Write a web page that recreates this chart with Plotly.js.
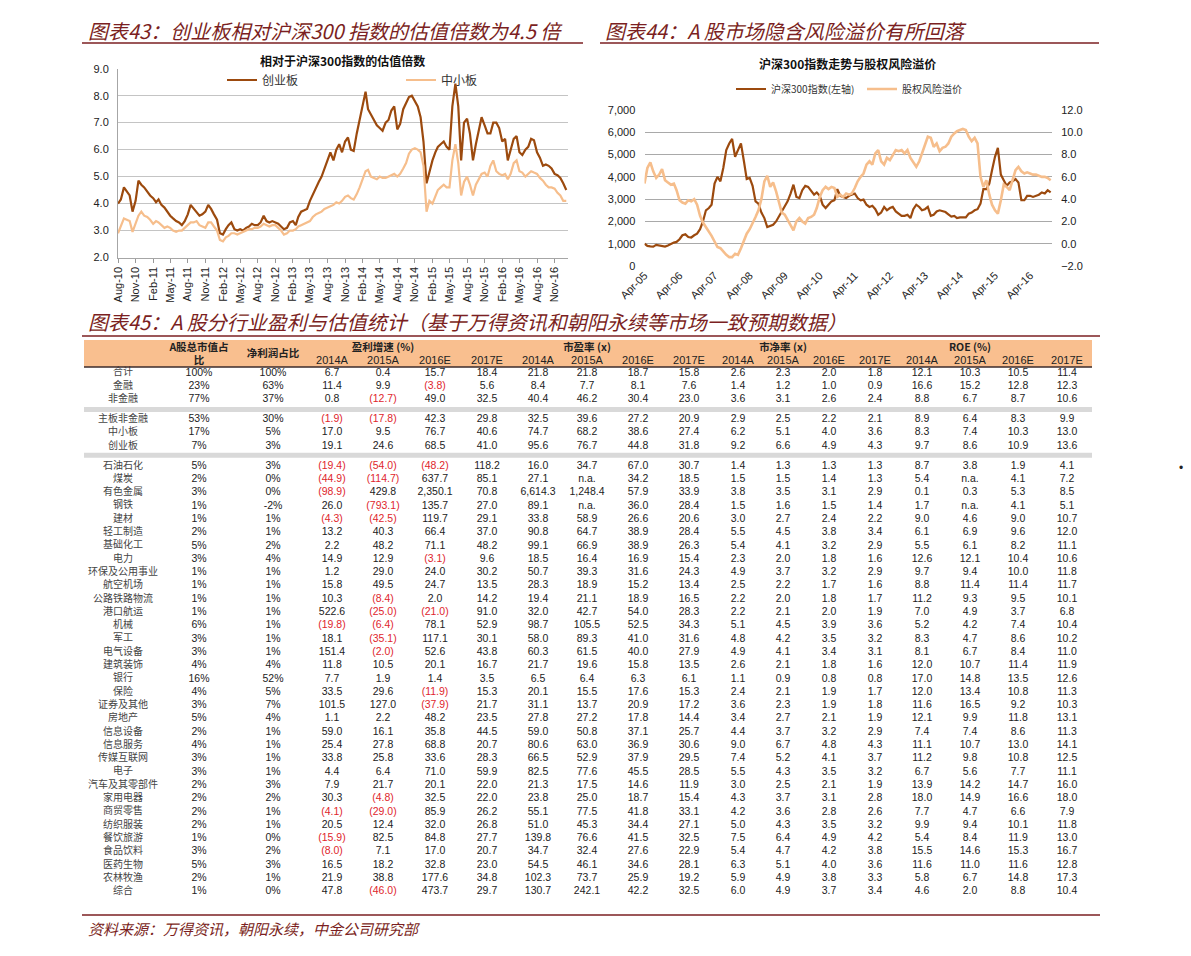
<!DOCTYPE html>
<html><head><meta charset="utf-8">
<script src="https://cdn.plot.ly/plotly-3.0.1.min.js"></script>
<style>html,body{margin:0;padding:0;background:#fff;}#chart{width:1191px;height:956px;}</style>
</head><body><div id="chart"></div>
<script>
// ===================== DATA =====================
// Chart 43: relative valuation multiples vs CSI300 (semi-monthly readings)
const relDates = [
"2010-08-01","2010-08-16","2010-09-01","2010-09-16","2010-10-01","2010-10-16","2010-11-01","2010-11-16","2010-12-01","2010-12-16",
"2011-01-01","2011-01-16","2011-02-01","2011-02-16","2011-03-01","2011-03-16","2011-04-01","2011-04-16","2011-05-01","2011-05-16","2011-06-01","2011-06-16",
"2011-07-01","2011-07-16","2011-08-01","2011-08-16","2011-09-01","2011-09-16","2011-10-01","2011-10-16","2011-11-01","2011-11-16","2011-12-01","2011-12-16",
"2012-01-01","2012-01-16","2012-02-01","2012-02-16","2012-03-01","2012-03-16","2012-04-01","2012-04-16","2012-05-01","2012-05-16","2012-06-01","2012-06-16",
"2012-07-01","2012-07-16","2012-08-01","2012-08-16","2012-09-01","2012-09-16","2012-10-01","2012-10-16","2012-11-01","2012-11-16","2012-12-01","2012-12-16",
"2013-01-01","2013-01-16","2013-02-01","2013-02-16","2013-03-01","2013-03-16","2013-04-01","2013-04-16","2013-05-01","2013-05-16","2013-06-01","2013-06-16",
"2013-07-01","2013-07-16","2013-08-01","2013-08-16","2013-09-01","2013-09-16","2013-10-01","2013-10-16","2013-11-01","2013-11-16","2013-12-01","2013-12-16",
"2014-01-01","2014-01-16","2014-02-01","2014-02-16","2014-03-01","2014-03-16","2014-04-01","2014-04-16","2014-05-01","2014-05-16","2014-06-01","2014-06-16",
"2014-07-01","2014-07-16","2014-08-01","2014-08-16","2014-09-01","2014-09-16","2014-10-01","2014-10-16","2014-11-01","2014-11-16","2014-12-01","2014-12-16",
"2015-01-01","2015-01-16","2015-02-01","2015-02-16","2015-03-01","2015-03-16","2015-04-01","2015-04-16","2015-05-01","2015-05-16","2015-06-01","2015-06-16",
"2015-07-01","2015-07-16","2015-08-01","2015-08-16","2015-09-01","2015-09-16","2015-10-01","2015-10-16","2015-11-01","2015-11-16","2015-12-01","2015-12-16",
"2016-01-01","2016-01-16","2016-02-01","2016-02-16","2016-03-01","2016-03-16","2016-04-01","2016-04-16","2016-05-01","2016-05-16","2016-06-01","2016-06-16",
"2016-07-01","2016-07-16","2016-08-01","2016-08-16","2016-09-01","2016-09-16","2016-10-01","2016-10-16","2016-11-01","2016-11-16","2016-12-01","2016-12-16",
"2017-01-01"];
const gemRel = [
4.0,4.15,4.6,4.45,4.3,3.7,4.1,4.85,4.7,4.6,
4.45,4.3,4.2,4.05,4.15,3.95,3.85,3.7,3.55,3.45,3.35,3.3,3.2,3.35,3.6,3.95,3.8,3.7,3.55,3.6,3.7,3.95,3.8,3.6,
3.4,2.9,2.85,3.05,3.2,3.3,3.05,3.0,3.05,3.0,3.1,3.15,3.25,3.2,3.2,3.3,3.55,3.35,3.3,3.35,3.3,3.25,3.15,3.05,
3.1,3.3,3.35,3.2,3.5,3.7,3.75,3.8,4.1,4.35,4.6,4.8,5.0,5.3,5.6,5.9,5.6,6.0,6.2,5.9,6.3,6.45,6.0,5.95,
6.6,7.1,7.6,8.15,7.5,7.3,7.1,6.9,6.8,6.7,7.0,7.1,7.45,7.6,6.75,6.95,7.5,7.7,7.95,8.0,7.8,7.6,7.2,6.3,
4.75,5.2,5.6,5.9,6.1,6.2,6.3,6.1,6.0,7.6,8.45,7.6,5.6,7.0,7.15,6.6,5.6,6.2,6.7,7.2,6.9,6.6,6.6,7.0,
7.0,6.8,6.3,6.4,5.6,6.0,6.4,6.5,5.9,5.8,6.0,6.1,6.4,6.35,5.9,5.7,5.4,5.45,5.4,5.3,5.1,5.05,4.95,4.75,
4.5];
const smeRel = [
2.9,3.2,3.45,3.4,3.35,2.95,3.3,3.55,3.7,3.55,
3.5,3.4,3.25,3.35,3.3,3.2,3.1,3.15,3.1,3.0,2.95,3.0,3.0,3.1,3.2,3.3,3.3,3.35,3.2,3.15,3.1,3.3,3.3,3.15,
3.0,2.65,2.6,2.75,2.8,2.9,2.9,2.85,2.9,2.95,3.0,3.05,3.05,3.1,3.1,3.15,3.25,3.2,3.15,3.2,3.2,3.1,3.0,2.85,
2.9,3.0,3.0,3.05,3.15,3.2,3.25,3.3,3.35,3.5,3.6,3.65,3.7,3.8,3.85,3.9,3.95,4.05,4.0,4.1,4.25,4.3,4.2,4.15,
4.35,4.6,4.9,5.2,5.25,5.0,4.95,4.9,5.0,4.95,4.95,5.0,5.05,5.1,5.0,5.1,5.3,5.5,5.85,6.0,6.05,6.0,5.9,5.4,
3.7,4.1,4.0,4.3,4.5,4.6,4.7,4.6,4.6,5.6,6.2,5.5,4.3,4.8,5.0,4.7,4.3,4.7,4.9,5.1,5.15,5.0,5.4,5.6,
5.2,5.1,5.05,5.1,4.9,5.1,5.5,5.6,5.2,5.15,5.0,5.1,5.2,5.15,5.1,4.95,4.85,4.7,4.6,4.6,4.55,4.4,4.3,4.1,
4.1];

// Chart 44: CSI300 index and equity risk premium (monthly readings)
const erpDates = [
"2005-04-01","2005-05-01","2005-06-01","2005-07-01","2005-08-01","2005-09-01","2005-10-01","2005-11-01","2005-12-01",
"2006-01-01","2006-02-01","2006-03-01","2006-04-01","2006-05-01","2006-06-01","2006-07-01","2006-08-01","2006-09-01","2006-10-01","2006-11-01","2006-12-01",
"2007-01-01","2007-02-01","2007-03-01","2007-04-01","2007-05-01","2007-06-01","2007-07-01","2007-08-01","2007-09-01","2007-10-01","2007-11-01","2007-12-01",
"2008-01-01","2008-02-01","2008-03-01","2008-04-01","2008-05-01","2008-06-01","2008-07-01","2008-08-01","2008-09-01","2008-10-01","2008-11-01","2008-12-01",
"2009-01-01","2009-02-01","2009-03-01","2009-04-01","2009-05-01","2009-06-01","2009-07-01","2009-08-01","2009-09-01","2009-10-01","2009-11-01","2009-12-01",
"2010-01-01","2010-02-01","2010-03-01","2010-04-01","2010-05-01","2010-06-01","2010-07-01","2010-08-01","2010-09-01","2010-10-01","2010-11-01","2010-12-01",
"2011-01-01","2011-02-01","2011-03-01","2011-04-01","2011-05-01","2011-06-01","2011-07-01","2011-08-01","2011-09-01","2011-10-01","2011-11-01","2011-12-01",
"2012-01-01","2012-02-01","2012-03-01","2012-04-01","2012-05-01","2012-06-01","2012-07-01","2012-08-01","2012-09-01","2012-10-01","2012-11-01","2012-12-01",
"2013-01-01","2013-02-01","2013-03-01","2013-04-01","2013-05-01","2013-06-01","2013-07-01","2013-08-01","2013-09-01","2013-10-01","2013-11-01","2013-12-01",
"2014-01-01","2014-02-01","2014-03-01","2014-04-01","2014-05-01","2014-06-01","2014-07-01","2014-08-01","2014-09-01","2014-10-01","2014-11-01","2014-12-01",
"2015-01-01","2015-02-01","2015-03-01","2015-04-01","2015-05-01","2015-06-01","2015-07-01","2015-08-01","2015-09-01","2015-10-01","2015-11-01","2015-12-01",
"2016-01-01","2016-02-01","2016-03-01","2016-04-01","2016-05-01","2016-06-01","2016-07-01","2016-08-01","2016-09-01","2016-10-01","2016-11-01"];
const hs300Index = [
1000,900,880,870,950,930,880,870,920,
1000,1050,1080,1200,1380,1420,1300,1280,1380,1450,1650,2000,
2500,2600,2750,3700,4000,3800,4400,5200,5500,5700,4900,5200,
5500,4700,3900,3950,3600,2900,2800,2400,2150,1750,1800,1850,
2000,2250,2450,2700,2900,3250,3650,3100,3050,3400,3600,3550,
3350,3200,3300,3150,2750,2600,2750,2900,2950,3450,3150,3100,
3050,3150,3200,3250,3050,2950,2980,2750,2650,2700,2550,2300,
2400,2650,2500,2600,2650,2450,2350,2250,2250,2300,2150,2550,
2750,2650,2500,2550,2650,2250,2300,2450,2500,2450,2420,2320,
2220,2250,2150,2180,2170,2180,2350,2400,2500,2550,2800,3450,
3450,3700,4300,4900,5300,4100,3850,3600,3750,3800,3900,3750,
2950,2950,3150,3150,3100,3150,3200,3300,3250,3400,3300];
const equityRiskPremium = [
5.4,6.8,7.3,6.5,5.9,6.2,6.7,5.7,5.5,
5.3,5.4,4.8,3.9,3.7,3.6,3.9,3.8,4.0,3.5,2.5,1.9,
1.5,1.1,0.7,0.2,-0.3,-0.4,-0.7,-1.0,-1.2,-1.2,-0.9,-1.0,
-0.4,0.3,0.9,1.3,1.8,2.4,3.0,4.0,5.6,6.1,5.1,5.5,
4.7,3.6,2.8,2.6,2.1,1.7,1.2,2.0,2.3,2.0,1.8,2.3,
2.4,2.6,3.2,4.2,4.8,5.1,4.9,5.1,5.0,4.2,4.4,4.2,
4.5,4.4,4.5,5.0,5.6,6.0,6.3,7.1,7.4,7.1,8.1,8.4,
7.4,7.1,7.7,7.5,8.0,8.4,8.3,8.4,8.1,8.4,7.7,7.3,
6.9,7.4,8.1,8.7,9.6,9.5,8.7,9.0,8.3,8.6,8.7,9.0,
9.6,9.9,10.1,10.2,10.3,10.2,9.6,9.2,9.5,9.0,6.0,5.1,
5.7,4.4,3.5,3.0,2.7,3.9,5.3,5.1,4.8,5.7,6.6,6.9,
6.5,6.3,6.4,6.3,6.2,6.2,6.1,6.0,6.0,5.9,5.7];

// Chart 45: table
const rowNames = ["合计","金融","非金融","主板非金融","中小板","创业板",
"石油石化","煤炭","有色金属","钢铁","建材","轻工制造","基础化工","电力","环保及公用事业","航空机场","公路铁路物流","港口航运","机械","军工","电气设备","建筑装饰","银行","保险","证券及其他","房地产","信息设备","信息服务","传媒互联网","电子","汽车及其零部件","家用电器","商贸零售","纺织服装","餐饮旅游","食品饮料","医药生物","农林牧渔","综合"];
const mktCapShare = [100,23,77,53,17,7,5,2,3,1,1,2,5,3,1,1,1,1,6,3,3,4,16,4,3,5,2,4,3,3,2,2,2,2,1,3,5,2,1];
const profitShare = [100,63,37,30,5,3,3,0,0,-2,1,1,2,4,1,1,1,1,1,1,1,4,52,5,7,4,1,1,1,1,3,2,1,1,0,2,3,1,0];
const growth2014 = [6.7,11.4,0.8,-1.9,17.0,19.1,-19.4,-44.9,-98.9,26.0,-4.3,13.2,2.2,14.9,1.2,15.8,10.3,522.6,-19.8,18.1,151.4,11.8,7.7,33.5,101.5,1.1,59.0,25.4,33.8,4.4,7.9,30.3,-4.1,20.5,-15.9,-8.0,16.5,21.9,47.8];
const growth2015 = [0.4,9.9,-12.7,-17.8,9.5,24.6,-54.0,-114.7,429.8,-793.1,-42.5,40.3,48.2,12.9,29.0,49.5,-8.4,-25.0,-6.4,-35.1,-2.0,10.5,1.9,29.6,127.0,2.2,16.1,27.8,25.8,6.4,21.7,-4.8,-29.0,12.4,82.5,7.1,18.2,38.8,-46.0];
const growth2016 = [15.7,-3.8,49.0,42.3,76.7,68.5,-48.2,637.7,2350.1,135.7,119.7,66.4,71.1,-3.1,24.0,24.7,2.0,-21.0,78.1,117.1,52.6,20.1,1.4,-11.9,-37.9,48.2,35.8,68.8,33.6,71.0,20.1,32.5,85.9,32.0,84.8,17.0,32.8,177.6,473.7];
const growth2017 = [18.4,5.6,32.5,29.8,40.6,41.0,118.2,85.1,70.8,27.0,29.1,37.0,48.2,9.6,30.2,13.5,14.2,91.0,52.9,30.1,43.8,16.7,3.5,15.3,21.7,23.5,44.5,20.7,28.3,59.9,22.0,22.0,26.2,26.8,27.7,20.7,23.0,34.8,29.7];
const pe2014 = [21.8,8.4,40.4,32.5,74.7,95.6,16.0,27.1,6614.3,89.1,33.8,90.8,99.1,18.5,50.7,28.3,19.4,32.0,98.7,58.0,60.3,21.7,6.5,20.1,31.1,27.8,59.0,80.6,66.5,82.5,21.3,23.8,55.1,51.0,139.8,34.7,54.5,102.3,130.7];
const pe2015 = [21.8,7.7,46.2,39.6,68.2,76.7,34.7,null,1248.4,null,58.9,64.7,66.9,16.4,39.3,18.9,21.1,42.7,105.5,89.3,61.5,19.6,6.4,15.5,13.7,27.2,50.8,63.0,52.9,77.6,17.5,25.0,77.5,45.3,76.6,32.4,46.1,73.7,242.1];
const pe2016 = [18.7,8.1,30.4,27.2,38.6,44.8,67.0,34.2,57.9,36.0,26.6,38.9,38.9,16.9,31.6,15.2,18.9,54.0,52.5,41.0,40.0,15.8,6.3,17.6,20.9,17.8,37.1,36.9,37.9,45.5,14.6,18.7,41.8,34.4,41.5,27.6,34.6,25.9,42.2];
const pe2017 = [15.8,7.6,23.0,20.9,27.4,31.8,30.7,18.5,33.9,28.4,20.6,28.4,26.3,15.4,24.3,13.4,16.5,28.3,34.3,31.6,27.9,13.5,6.1,15.3,17.2,14.4,25.7,30.6,29.5,28.5,11.9,15.4,33.1,27.1,32.5,22.9,28.1,19.2,32.5];
const pb2014 = [2.6,1.4,3.6,2.9,6.2,9.2,1.4,1.5,3.8,1.5,3.0,5.5,5.4,2.3,4.9,2.5,2.2,2.2,5.1,4.8,4.9,2.6,1.1,2.4,3.6,3.4,4.4,9.0,7.4,5.5,3.0,4.3,4.2,5.0,7.5,5.4,6.3,5.9,6.0];
const pb2015 = [2.3,1.2,3.1,2.5,5.1,6.6,1.3,1.5,3.5,1.6,2.7,4.5,4.1,2.0,3.7,2.2,2.0,2.1,4.5,4.2,4.1,2.1,0.9,2.1,2.3,2.7,3.7,6.7,5.2,4.3,2.5,3.7,3.6,4.3,6.4,4.7,5.1,4.9,4.9];
const pb2016 = [2.0,1.0,2.6,2.2,4.0,4.9,1.3,1.4,3.1,1.5,2.4,3.8,3.2,1.8,3.2,1.7,1.8,2.0,3.9,3.5,3.4,1.8,0.8,1.9,1.9,2.1,3.2,4.8,4.1,3.5,2.1,3.1,2.8,3.5,4.9,4.2,4.0,3.8,3.7];
const pb2017 = [1.8,0.9,2.4,2.1,3.6,4.3,1.3,1.3,2.9,1.4,2.2,3.4,2.9,1.6,2.9,1.6,1.7,1.9,3.6,3.2,3.1,1.6,0.8,1.7,1.8,1.9,2.9,4.3,3.7,3.2,1.9,2.8,2.6,3.2,4.2,3.8,3.6,3.3,3.4];
const roe2014 = [12.1,16.6,8.8,8.9,8.3,9.7,8.7,5.4,0.1,1.7,9.0,6.1,5.5,12.6,9.7,8.8,11.2,7.0,5.2,8.3,8.1,12.0,17.0,12.0,11.6,12.1,7.4,11.1,11.2,6.7,13.9,18.0,7.7,9.9,5.4,15.5,11.6,5.8,4.6];
const roe2015 = [10.3,15.2,6.7,6.4,7.4,8.6,3.8,null,0.3,null,4.6,6.9,6.1,12.1,9.4,11.4,9.3,4.9,4.2,4.7,6.7,10.7,14.8,13.4,16.5,9.9,7.4,10.7,9.8,5.6,14.2,14.9,4.7,9.4,8.4,14.6,11.0,6.7,2.0];
const roe2016 = [10.5,12.8,8.7,8.3,10.3,10.9,1.9,4.1,5.3,4.1,9.0,9.6,8.2,10.4,10.0,11.4,9.5,3.7,7.4,8.6,8.4,11.4,13.5,10.8,9.2,11.8,8.6,13.0,10.8,7.7,14.7,16.6,6.6,10.1,11.9,15.3,11.6,14.8,8.8];
const roe2017 = [11.4,12.3,10.6,9.9,13.0,13.6,4.1,7.2,8.5,5.1,10.7,12.0,11.1,10.6,11.8,11.7,10.1,6.8,10.4,10.2,11.0,11.9,12.6,11.3,10.3,13.1,11.3,14.1,12.5,11.1,16.0,18.0,7.9,11.8,13.0,16.7,12.8,17.3,10.4];
const groupHeaders = ["盈利增速 (%)","市盈率 (x)","市净率 (x)","ROE (%)"];
const yearHeaders = ["2014A","2015A","2016E","2017E"];

// ===================== LAYOUT HELPERS =====================
const W = 1191, H = 956;
const px = x => x / W, py = y => 1 - y / H;
const DARK = '#9C4A0E', LIGHT = '#F6BE8C', TITLE = '#7b1f22';
const CJK = '"Noto Sans CJK SC", "Noto Sans", sans-serif';
const LAT = 'Arial, "Liberation Sans", "Noto Sans CJK SC", sans-serif';

// table geometry (layout only)
const colX = [123,199,273,332,383,435,487,538,587,638,689,738,783,829,875,922,970,1018,1067];
const rowY = rowNames.map((_, i) => i < 3 ? i : (i < 6 ? i + 0.5 : i + 1));

function fmtNum(v) {
  if (v === null) return 'n.a.';
  let s = Math.abs(v).toFixed(1).replace(/\B(?=(\d{3})+(?!\d))/g, ',');
  return v < 0 ? '(' + s + ')' : s;
}
const numCols = [growth2014,growth2015,growth2016,growth2017,pe2014,pe2015,pe2016,pe2017,pb2014,pb2015,pb2016,pb2017,roe2014,roe2015,roe2016,roe2017];

const blk = {x:[],y:[],t:[]}, red = {x:[],y:[],t:[]};
rowNames.forEach((n, i) => {
  blk.x.push(colX[1]); blk.y.push(rowY[i]); blk.t.push(mktCapShare[i] + '%');
  blk.x.push(colX[2]); blk.y.push(rowY[i]); blk.t.push(profitShare[i] + '%');
  numCols.forEach((col, j) => {
    const v = col[i];
    const tgt = (v !== null && v < 0) ? red : blk;
    tgt.x.push(colX[3 + j]); tgt.y.push(rowY[i]); tgt.t.push(fmtNum(v));
  });
});

const hdrYears = {x:[],y:[],t:[]};
for (let g = 0; g < 4; g++) for (let k = 0; k < 4; k++) {
  hdrYears.x.push(colX[3 + g*4 + k]); hdrYears.y.push(-0.9); hdrYears.t.push(yearHeaders[k]);
}

const tblBase = {type:'scatter', mode:'text', xaxis:'x3', yaxis:'y3', showlegend:false, hoverinfo:'skip', cliponaxis:false, textposition:'middle center'};

const traces = [
  {type:'scatter', mode:'lines', x:relDates, y:gemRel, name:'创业板', line:{color:DARK, width:2.2}, legend:'legend', hoverinfo:'skip'},
  {type:'scatter', mode:'lines', x:relDates, y:smeRel, name:'中小板', line:{color:LIGHT, width:2.2}, legend:'legend', hoverinfo:'skip'},
  {type:'scatter', mode:'lines', x:erpDates, y:hs300Index, name:'沪深300指数(左轴)', xaxis:'x2', yaxis:'y2', line:{color:DARK, width:2.2}, legend:'legend2', hoverinfo:'skip'},
  {type:'scatter', mode:'lines', x:erpDates, y:equityRiskPremium, name:'股权风险溢价', xaxis:'x2', yaxis:'y4', line:{color:LIGHT, width:2.6}, legend:'legend2', hoverinfo:'skip'},
  Object.assign({}, tblBase, {x: rowNames.map(() => colX[0]), y: rowY, text: rowNames, textfont:{family:CJK, size:10, color:'#444'}}),
  Object.assign({}, tblBase, {x: blk.x, y: blk.y, text: blk.t, textfont:{family:LAT, size:10.5, color:'#222'}}),
  Object.assign({}, tblBase, {x: red.x, y: red.y, text: red.t, textfont:{family:LAT, size:10.5, color:'#e0262c'}}),
  Object.assign({}, tblBase, {x: hdrYears.x, y: hdrYears.y, text: hdrYears.t, textfont:{family:LAT, size:11, color:'#222'}}),
  Object.assign({}, tblBase, {x:[colX[1], colX[1], colX[2], colX[4], colX[8], colX[12], colX[16]], y:[-1.88, -0.9, -1.4, -1.88, -1.88, -1.88, -1.88],
    text:['A股总市值占','比','净利润占比'].concat(groupHeaders), textfont:{family:CJK, size:10.5, color:'#222', weight:'bold'}})
];

const ann = (text, x, y, opt) => Object.assign({text, x:px(x), y:py(y), xref:'paper', yref:'paper', showarrow:false, xanchor:'center', yanchor:'middle'}, opt);

const layout = {
  width:W, height:H, margin:{l:0,r:0,t:0,b:0}, paper_bgcolor:'#fff', plot_bgcolor:'rgba(0,0,0,0)',
  font:{family:LAT, color:'#222'},
  xaxis:{domain:[px(118), px(568)], type:'date', range:['2010-08-01','2017-01-10'], tick0:'2010-08-01', dtick:'M3', tickformat:'%b-%y',
    tickangle:-90, tickfont:{size:11, color:'#222'}, ticks:'outside', ticklen:4, tickcolor:'#999', showgrid:false, showline:true, linecolor:'#a6a6a6', linewidth:1, fixedrange:true},
  yaxis:{domain:[py(257.5), py(68.7)], range:[2,9], dtick:1, tickformat:'.1f', tickfont:{size:11, color:'#222'}, showgrid:true, gridcolor:'#c4c4c4', gridwidth:1,
    showline:true, linecolor:'#a6a6a6', zeroline:false, ticks:'outside', ticklen:6, tickcolor:'rgba(0,0,0,0)', fixedrange:true},
  xaxis2:{domain:[px(644.5), px(1052)], anchor:'y2', type:'date', range:['2005-04-01','2016-11-15'], tick0:'2005-04-01', dtick:'M12', tickformat:'%b-%y',
    tickangle:-45, tickfont:{size:11, color:'#222'}, showgrid:false, showline:false, ticks:'', fixedrange:true},
  yaxis2:{domain:[py(266), py(110)], anchor:'x2', range:[0,7000], dtick:1000, tickformat:',d', tickfont:{size:11, color:'#222'}, showgrid:true, gridcolor:'#a9a9a9', gridwidth:1,
    zeroline:false, showline:false, ticks:'outside', ticklen:6, tickcolor:'rgba(0,0,0,0)', fixedrange:true},
  yaxis4:{overlaying:'y2', anchor:'x2', side:'right', range:[-2,12], dtick:2, tickformat:'.1f', tickfont:{size:11, color:'#222'}, showgrid:false, zeroline:false,
    ticks:'outside', ticklen:6, tickcolor:'rgba(0,0,0,0)', fixedrange:true},
  xaxis3:{domain:[0,1], anchor:'y3', range:[0,W], visible:false, fixedrange:true},
  yaxis3:{domain:[py(911.65), py(333.1)], anchor:'x3', range:[40.5,-3], visible:false, fixedrange:true},
  legend:{orientation:'h', x:px(222), y:py(80), xanchor:'left', yanchor:'middle', font:{family:CJK, size:12, color:'#333'}, bgcolor:'rgba(0,0,0,0)',
    entrywidth:134, entrywidthmode:'pixels', itemwidth:30, tracegroupgap:0},
  legend2:{orientation:'h', x:px(731), y:py(89), xanchor:'left', yanchor:'middle', font:{family:CJK, size:10, color:'#333'}, bgcolor:'rgba(0,0,0,0)',
    entrywidth:86, entrywidthmode:'pixels', itemwidth:30, tracegroupgap:0},
  shapes:[
    {type:'line', xref:'paper', yref:'paper', x0:px(82), x1:px(583), y0:py(43), y1:py(43), line:{color:TITLE, width:1.5}},
    {type:'line', xref:'paper', yref:'paper', x0:px(600), x1:px(1099), y0:py(43), y1:py(43), line:{color:TITLE, width:1.5}},
    {type:'line', xref:'paper', yref:'paper', x0:px(82), x1:px(1100), y0:py(336), y1:py(336), line:{color:TITLE, width:1.5}},
    {type:'line', xref:'paper', yref:'paper', x0:px(82), x1:px(1100), y0:py(915), y1:py(915), line:{color:TITLE, width:1.5}},
    {type:'rect', xref:'x3', yref:'y3', x0:84, x1:1092, y0:-2.48, y1:-0.45, fillcolor:'#F9BF8F', line:{width:0}, layer:'below'},
    {type:'line', xref:'x3', yref:'y3', x0:84, x1:1092, y0:-0.45, y1:-0.45, line:{color:'#3b2b2b', width:1.5}},
    {type:'rect', xref:'x3', yref:'y3', x0:84, x1:1092, y0:2.55, y1:2.93, fillcolor:'#d9d9d9', line:{width:0}, layer:'below'},
    {type:'rect', xref:'x3', yref:'y3', x0:84, x1:1092, y0:6.0, y1:6.38, fillcolor:'#d9d9d9', line:{width:0}, layer:'below'}
  ],
  annotations:[
    ann('<i>图表43：创业板相对沪深300 指数的估值倍数为4.5 倍</i>', 86, 30, {xanchor:'left', font:{family:CJK, size:20, color:TITLE}}),
    ann('<i>图表44：A 股市场隐含风险溢价有所回落</i>', 603, 30, {xanchor:'left', font:{family:CJK, size:20, color:TITLE}}),
    ann('<i>图表45：A 股分行业盈利与估值统计（基于万得资讯和朝阳永续等市场一致预期数据）</i>', 86, 322, {xanchor:'left', font:{family:CJK, size:20, color:TITLE}}),
    ann('<i>资料来源：万得资讯，朝阳永续，中金公司研究部</i>', 86, 928, {xanchor:'left', font:{family:CJK, size:15, color:TITLE}}),
    ann('<b>相对于沪深300指数的估值倍数</b>', 342, 60, {font:{family:CJK, size:12, color:'#111'}}),
    ann('<b>沪深300指数走势与股权风险溢价</b>', 847, 64, {font:{family:CJK, size:12, color:'#111'}}),
    ann('•', 1181, 468, {font:{size:12, color:'#222'}})
  ]
};

Plotly.newPlot('chart', traces, layout, {displayModeBar:false, staticPlot:true});
</script></body></html>
